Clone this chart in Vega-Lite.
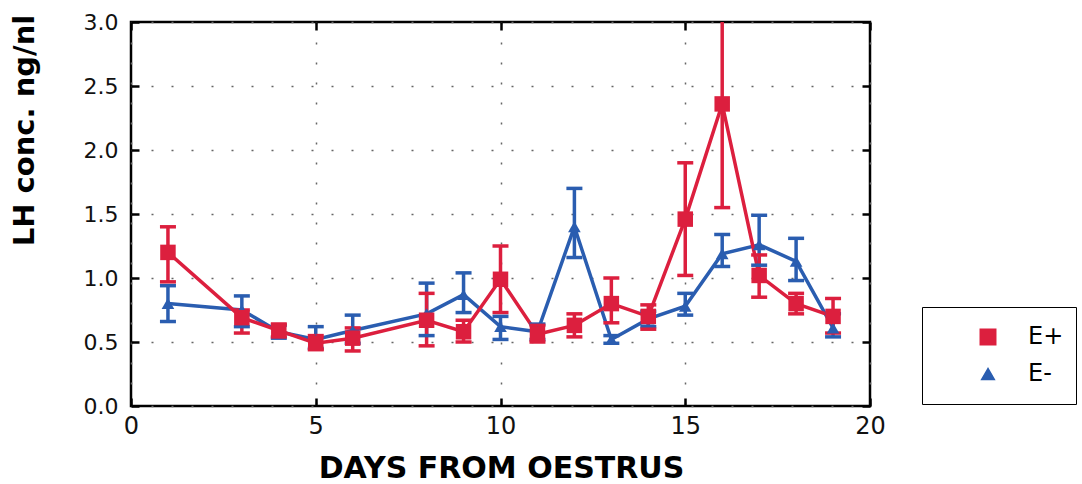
{
  "$schema": "https://vega.github.io/schema/vega-lite/v6.json",
  "width": 739,
  "height": 384,
  "autosize": {"type": "none"},
  "padding": {"left": 131, "top": 22, "right": 212, "bottom": 78},
  "background": "white",
  "config": {
    "view": {"stroke": "black", "strokeWidth": 2.5},
    "font": "DejaVu Sans"
  },
  "data": {
    "values": [
      {"day": 1, "group": "E-", "mean": 0.80, "lo": 0.66, "hi": 0.94},
      {"day": 3, "group": "E-", "mean": 0.75, "lo": 0.62, "hi": 0.86},
      {"day": 4, "group": "E-", "mean": 0.58, "lo": 0.53, "hi": 0.63},
      {"day": 5, "group": "E-", "mean": 0.52, "lo": 0.45, "hi": 0.62},
      {"day": 6, "group": "E-", "mean": 0.59, "lo": 0.49, "hi": 0.71},
      {"day": 8, "group": "E-", "mean": 0.72, "lo": 0.55, "hi": 0.96},
      {"day": 9, "group": "E-", "mean": 0.87, "lo": 0.73, "hi": 1.04},
      {"day": 10, "group": "E-", "mean": 0.62, "lo": 0.52, "hi": 0.70},
      {"day": 11, "group": "E-", "mean": 0.58, "lo": 0.52, "hi": 0.64},
      {"day": 12, "group": "E-", "mean": 1.40, "lo": 1.16, "hi": 1.70},
      {"day": 13, "group": "E-", "mean": 0.52, "lo": 0.49, "hi": 0.55},
      {"day": 14, "group": "E-", "mean": 0.68, "lo": 0.62, "hi": 0.74},
      {"day": 15, "group": "E-", "mean": 0.78, "lo": 0.71, "hi": 0.88},
      {"day": 16, "group": "E-", "mean": 1.19, "lo": 1.09, "hi": 1.34},
      {"day": 17, "group": "E-", "mean": 1.26, "lo": 1.10, "hi": 1.49},
      {"day": 18, "group": "E-", "mean": 1.13, "lo": 0.98, "hi": 1.31},
      {"day": 19, "group": "E-", "mean": 0.61, "lo": 0.54, "hi": 0.72},
      {"day": 1, "group": "E+", "mean": 1.20, "lo": 0.97, "hi": 1.40},
      {"day": 3, "group": "E+", "mean": 0.69, "lo": 0.57, "hi": 0.75},
      {"day": 4, "group": "E+", "mean": 0.59, "lo": 0.54, "hi": 0.64},
      {"day": 5, "group": "E+", "mean": 0.49, "lo": 0.44, "hi": 0.55},
      {"day": 6, "group": "E+", "mean": 0.53, "lo": 0.43, "hi": 0.61},
      {"day": 8, "group": "E+", "mean": 0.67, "lo": 0.47, "hi": 0.88},
      {"day": 9, "group": "E+", "mean": 0.58, "lo": 0.50, "hi": 0.67},
      {"day": 10, "group": "E+", "mean": 0.99, "lo": 0.73, "hi": 1.25},
      {"day": 11, "group": "E+", "mean": 0.56, "lo": 0.50, "hi": 0.63},
      {"day": 12, "group": "E+", "mean": 0.63, "lo": 0.54, "hi": 0.72},
      {"day": 13, "group": "E+", "mean": 0.80, "lo": 0.65, "hi": 1.00},
      {"day": 14, "group": "E+", "mean": 0.70, "lo": 0.60, "hi": 0.79},
      {"day": 15, "group": "E+", "mean": 1.46, "lo": 1.02, "hi": 1.90},
      {"day": 16, "group": "E+", "mean": 2.36, "lo": 1.55, "hi": 3.30},
      {"day": 17, "group": "E+", "mean": 1.02, "lo": 0.85, "hi": 1.18},
      {"day": 18, "group": "E+", "mean": 0.80, "lo": 0.72, "hi": 0.88},
      {"day": 19, "group": "E+", "mean": 0.70, "lo": 0.57, "hi": 0.84}
    ]
  },
  "resolve": {"axis": {"x": "independent", "y": "independent"}},
  "layer": [
    {
      "mark": {"type": "line", "strokeWidth": 3.5, "clip": true},
      "encoding": {
        "x": {
          "field": "day", "type": "quantitative",
          "scale": {"domain": [0, 20], "nice": false, "zero": false},
          "axis": {
            "values": [0, 5, 10, 15, 20],
            "title": "DAYS FROM OESTRUS",
            "titleFont": "DejaVu Sans", "titleFontWeight": "bold", "titleFontSize": 30, "titleColor": "black",
            "titleX": 370, "titleY": 71, "titleBaseline": "alphabetic", "titleAlign": "center",
            "labelFont": "DejaVu Sans", "labelFontSize": 24, "labelColor": "#111", "labelPadding": 16,
            "labelFlush": false,
            "tickSize": -8, "tickWidth": 2.5, "tickColor": "black",
            "domain": false,
            "grid": true, "gridDash": [2, 18], "gridColor": "#666", "gridWidth": 1.5
          }
        },
        "y": {
          "field": "mean", "type": "quantitative",
          "scale": {"domain": [0, 3], "nice": false},
          "axis": {
            "values": [0, 0.5, 1, 1.5, 2, 2.5, 3],
            "format": ".1f",
            "title": "LH conc. ng/nl",
            "titleFont": "DejaVu Sans", "titleFontWeight": "bold", "titleFontSize": 29, "titleColor": "black",
            "titleX": -107, "titleY": 108, "titleAngle": -90, "titleAlign": "center", "titleBaseline": "middle",
            "labelFont": "DejaVu Sans", "labelFontSize": 22, "labelColor": "#111", "labelPadding": 21,
            "labelFlush": false,
            "tickSize": -8, "tickWidth": 2.5, "tickColor": "black",
            "domain": false,
            "grid": true, "gridDash": [2, 18], "gridColor": "#666", "gridWidth": 1.5
          }
        },
        "color": {
          "field": "group", "type": "nominal",
          "scale": {"domain": ["E+", "E-"], "range": ["#dc1f3e", "#2a5db0"]},
          "legend": {
            "orient": "none", "legendX": 791, "legendY": 285,
            "title": null, "padding": 12,
            "strokeColor": "black", "fillColor": "white",
            "symbolSize": 200, "symbolOffset": 42, "labelOffset": 28,
            "labelFontSize": 24, "labelFont": "DejaVu Sans", "labelColor": "black",
            "clipHeight": 36, "rowPadding": 1
          }
        }
      }
    },
    {
      "mark": {"type": "rule", "strokeWidth": 3.5, "clip": true},
      "encoding": {
        "x": {"field": "day", "type": "quantitative", "axis": null},
        "y": {"field": "lo", "type": "quantitative", "axis": null},
        "y2": {"field": "hi"},
        "color": {"field": "group", "type": "nominal"}
      }
    },
    {
      "mark": {"type": "tick", "orient": "horizontal", "thickness": 3.5, "size": 16, "opacity": 1, "clip": true},
      "encoding": {
        "x": {"field": "day", "type": "quantitative", "axis": null},
        "y": {"field": "lo", "type": "quantitative", "axis": null},
        "color": {"field": "group", "type": "nominal"}
      }
    },
    {
      "mark": {"type": "tick", "orient": "horizontal", "thickness": 3.5, "size": 16, "opacity": 1, "clip": true},
      "encoding": {
        "x": {"field": "day", "type": "quantitative", "axis": null},
        "y": {"field": "hi", "type": "quantitative", "axis": null},
        "color": {"field": "group", "type": "nominal"}
      }
    },
    {
      "mark": {"type": "point", "filled": true, "opacity": 1, "clip": true},
      "encoding": {
        "x": {
          "field": "day", "type": "quantitative",
          "axis": {"orient": "top", "values": [0, 5, 10, 15, 20], "labels": false, "title": null, "domain": false, "grid": false, "tickSize": -8, "tickWidth": 2.5, "tickColor": "black"}
        },
        "y": {
          "field": "mean", "type": "quantitative",
          "axis": {"orient": "right", "values": [0, 0.5, 1, 1.5, 2, 2.5, 3], "labels": false, "title": null, "domain": false, "grid": false, "tickSize": -8, "tickWidth": 2.5, "tickColor": "black"}
        },
        "color": {"field": "group", "type": "nominal"},
        "shape": {
          "field": "group", "type": "nominal",
          "scale": {"domain": ["E+", "E-"], "range": ["square", "triangle-up"]},
          "legend": null
        },
        "size": {"field": "group", "type": "nominal", "scale": {"domain": ["E+", "E-"], "range": [240, 160]}, "legend": null}
      }
    }
  ]
}
